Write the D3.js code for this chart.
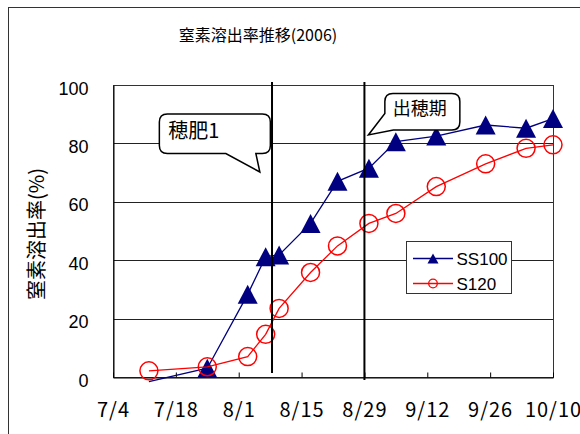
<!DOCTYPE html>
<html><head><meta charset="utf-8">
<script src="https://cdn.jsdelivr.net/npm/d3@7"></script>
<style>
  body { margin: 0; background: #fff; }
  .jp { font-family: "Noto Sans CJK JP", sans-serif; }
  .num { font-family: "Liberation Sans", Arial, sans-serif; }
</style>
</head><body>
<script>
// sampling dates and dissolution rates (%)
var dates = ["2006-07-12", "2006-07-25", "2006-08-03", "2006-08-07", "2006-08-10", "2006-08-17", "2006-08-23",
             "2006-08-30", "2006-09-05", "2006-09-14", "2006-09-25", "2006-10-04", "2006-10-10"];
var ss100 = [-1.6, 3.0, 28.3, 41.2, 41.8, 52.6, 67.0, 71.5, 80.6, 82.5, 86.3, 85.2, 88.5];
var s120  = [2.1, 3.5, 7.0, 14.6, 23.5, 35.8, 44.9, 52.6, 56.0, 65.2, 73.0, 78.3, 79.5];
var seriesNames = ["SS100", "S120"];

var xTickLabels = ["7/4", "7/18", "8/1", "8/15", "8/29", "9/12", "9/26", "10/10"];
var yTicks = [0, 20, 40, 60, 80, 100];

// event lines (穂肥1, 出穂期) and their callouts
var eventDates  = ["2006-08-08 10", "2006-08-29 00"];
var eventLow    = [1.4, -1];
var eventHigh   = [101, 101];
var eventLabels = ["穂肥1", "出穂期"];
var tipDates    = ["2006-08-05 17", "2006-08-29 21"];
var tipValues   = [70.2, 82.9];

var W = 580, H = 434;
var plot = {left: 113, right: 553, top: 85, bottom: 377};

var parseDay = d3.utcParse("%Y-%m-%d"),
    parseHour = d3.utcParse("%Y-%m-%d %H"),
    parseTick = d3.utcParse("%Y/%m/%d");

var svg = d3.select("body").append("svg")
    .attr("width", W)
    .attr("height", H);

svg.append("rect").attr("width", W).attr("height", H).attr("fill", "#fff");
// chart area border
svg.append("rect")
    .attr("x", 8.5).attr("y", 7.5)
    .attr("width", 620).attr("height", 500)
    .attr("fill", "none").attr("stroke", "#333");

var x = d3.scaleUtc()
    .domain([parseDay("2006-07-04"), parseDay("2006-10-10")])
    .range([plot.left, plot.right]);
var y = d3.scaleLinear()
    .domain([0, 100])
    .range([plot.bottom, plot.top]);

// title
svg.append("text")
    .attr("class", "jp")
    .attr("x", 258).attr("y", 40.5)
    .attr("text-anchor", "middle")
    .attr("font-size", 16)
    .text("窒素溶出率推移(2006)");

// gridlines
svg.append("g").selectAll("line")
    .data(yTicks.filter(d => d > 0 && d < 100))
    .enter().append("line")
    .attr("x1", plot.left).attr("x2", plot.right)
    .attr("y1", d => Math.round(y(d)) + 0.5).attr("y2", d => Math.round(y(d)) + 0.5)
    .attr("stroke", "#222");

// plot border
svg.append("rect")
    .attr("x", plot.left + 0.5).attr("y", plot.top + 0.5)
    .attr("width", plot.right - plot.left).attr("height", plot.bottom - plot.top)
    .attr("fill", "none").attr("stroke", "#333");

// x axis
var tickDates = xTickLabels.map(s => parseTick("2006/" + s));
var xAxis = svg.append("g")
    .attr("transform", "translate(0," + (plot.bottom + 0.5) + ")")
    .call(d3.axisBottom(x).tickValues(tickDates).tickFormat((d, i) => xTickLabels[i]).tickSize(-5).tickSizeOuter(0));
xAxis.select(".domain").attr("stroke", "#000");
xAxis.selectAll(".tick line").attr("stroke", "#000");
xAxis.selectAll("text")
    .attr("class", "jp")
    .attr("font-size", 20)
    .attr("letter-spacing", 1)
    .attr("fill", "#000")
    .attr("dy", null)
    .attr("y", 39.5);

// y axis
var yAxis = svg.append("g")
    .attr("transform", "translate(" + (plot.left + 0.5) + ",0)")
    .call(d3.axisLeft(y).tickValues(yTicks).tickSize(0).tickPadding(25));
yAxis.select(".domain").attr("stroke", "#000");
yAxis.selectAll("text")
    .attr("class", "num")
    .attr("font-size", 18)
    .attr("fill", "#000")
    .attr("dy", "0.5em");

// y axis title
svg.append("text")
    .attr("class", "jp")
    .attr("transform", "translate(44,234) rotate(-90)")
    .attr("text-anchor", "middle")
    .attr("font-size", 20)
    .text("窒素溶出率(%)");

var tri = (w, h) => "M0," + (-h / 2) + "L" + (w / 2) + "," + (h / 2) + "L" + (-w / 2) + "," + (h / 2) + "Z";

var pts1 = dates.map((d, i) => ({date: parseDay(d), v: ss100[i]}));
var pts2 = dates.map((d, i) => ({date: parseDay(d), v: s120[i]}));
var line = d3.line().x(d => x(d.date)).y(d => y(d.v));

// SS100
svg.append("path")
    .datum(pts1)
    .attr("d", line)
    .attr("fill", "none").attr("stroke", "#000080").attr("stroke-width", 1.3);
svg.append("g").selectAll("path")
    .data(pts1.filter(d => d.v >= 0))
    .enter().append("path")
    .attr("d", tri(20, 19))
    .attr("transform", d => "translate(" + x(d.date) + "," + y(d.v) + ")")
    .attr("fill", "#000080");

// S120
svg.append("path")
    .datum(pts2)
    .attr("d", line)
    .attr("fill", "none").attr("stroke", "#ff0000").attr("stroke-width", 1.3);
svg.append("g").selectAll("circle")
    .data(pts2)
    .enter().append("circle")
    .attr("cx", d => x(d.date)).attr("cy", d => y(d.v))
    .attr("r", 9)
    .attr("fill", "none").attr("stroke", "#ff0000").attr("stroke-width", 1.5);

// legend
var lg = svg.append("g");
lg.append("rect")
    .attr("x", 406.5).attr("y", 241.5).attr("width", 105).attr("height", 52)
    .attr("fill", "#fff").attr("stroke", "#333");
var rows = lg.selectAll("g.row").data(seriesNames).enter().append("g")
    .attr("transform", (d, i) => "translate(413," + (258.5 + i * 25) + ")");
rows.append("line")
    .attr("x1", 0).attr("x2", 40)
    .attr("stroke", (d, i) => i ? "#ff0000" : "#000080").attr("stroke-width", 1.5);
rows.filter((d, i) => i === 0).append("path")
    .attr("d", tri(11, 10)).attr("transform", "translate(20,0)").attr("fill", "#000080");
rows.filter((d, i) => i === 1).append("circle")
    .attr("cx", 20).attr("r", 4.3)
    .attr("fill", "none").attr("stroke", "#ff0000").attr("stroke-width", 1.3);
rows.append("text")
    .attr("class", "num")
    .attr("x", 43.5).attr("y", 6.5)
    .attr("font-size", 17)
    .text(d => d);

// event lines
svg.append("g").selectAll("line")
    .data(eventDates)
    .enter().append("line")
    .attr("x1", d => x(parseHour(d))).attr("x2", d => x(parseHour(d)))
    .attr("y1", (d, i) => y(eventLow[i])).attr("y2", (d, i) => y(eventHigh[i]))
    .attr("stroke", "#000").attr("stroke-width", 2);

// callouts
var r = 8;
function callout1(tx, ty) {
  var x0 = tx - 100.5, x1 = tx + 10.5, y0 = ty - 58, y1 = ty - 18.5;
  return "M" + (x0 + r) + "," + y0 + "H" + (x1 - r) + "Q" + x1 + "," + y0 + " " + x1 + "," + (y0 + r) +
    "V" + (y1 - r) + "Q" + x1 + "," + y1 + " " + (x1 - r) + "," + y1 +
    "H" + (tx - 4) + "L" + tx + "," + ty + "L" + (tx - 34) + "," + y1 +
    "H" + (x0 + r) + "Q" + x0 + "," + y1 + " " + x0 + "," + (y1 - r) +
    "V" + (y0 + r) + "Q" + x0 + "," + y0 + " " + (x0 + r) + "," + y0 + "Z";
}
function callout2(tx, ty) {
  var x0 = tx + 16.5, x1 = tx + 91.5, y0 = ty - 41.5, y1 = ty - 5;
  return "M" + (x0 + r) + "," + y0 + "H" + (x1 - r) + "Q" + x1 + "," + y0 + " " + x1 + "," + (y0 + r) +
    "V" + (y1 - r) + "Q" + x1 + "," + y1 + " " + (x1 - r) + "," + y1 +
    "H" + (tx + 25) + "L" + tx + "," + ty + "L" + x0 + "," + (ty - 21.5) +
    "V" + (y0 + r) + "Q" + x0 + "," + y0 + " " + (x0 + r) + "," + y0 + "Z";
}
var shapes = [callout1, callout2];
var textOff = [[-91.5, -34, 20], [24.5, -19.5, 18]];
eventLabels.forEach(function (label, i) {
  var tx = x(parseHour(tipDates[i])), ty = y(tipValues[i]);
  svg.append("path")
      .attr("d", shapes[i](tx, ty))
      .attr("fill", "#fff").attr("stroke", "#000").attr("stroke-width", 1.5);
  svg.append("text")
      .attr("class", "jp")
      .attr("x", tx + textOff[i][0]).attr("y", ty + textOff[i][1])
      .attr("font-size", textOff[i][2])
      .text(label);
});
</script>
</body></html>
